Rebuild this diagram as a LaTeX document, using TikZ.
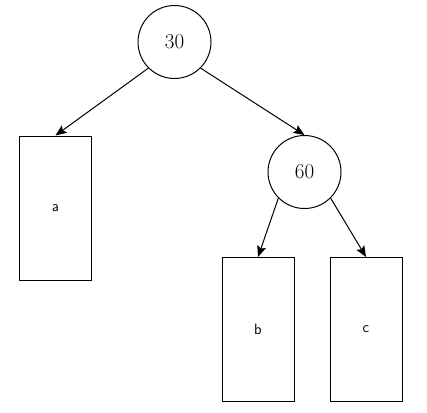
\documentclass[tikz,border=0pt]{standalone}
\usetikzlibrary{arrows.meta}
\begin{document}
\begin{tikzpicture}[
            x=1pt, y=-1pt,
            keynode/.style={circle, draw, minimum size=73pt, inner sep=0pt,
                font=\fontsize{21}{24}\selectfont},
            subtree/.style={rectangle, draw, minimum width=72pt, minimum height=144pt,
                inner sep=0pt, font=\sffamily\fontsize{15}{17}\selectfont},
            every path/.style={line width=1pt},
            link/.style={-{Stealth[length=11pt,width=9pt,inset=2pt]}}
            ]
            \useasboundingbox (0,0) rectangle (427,412);
            \node[keynode] (k30) at (174.5,42) {30};
            \node[subtree] (ta) at (55.5,208) {a};
            \node[keynode] (k60) at (304.5,172) {60};
            \node[subtree] (tb) at (258,329.5) {b};
            \node[subtree] (tc) at (366,329.5) {c};
            \draw[link] (k30.225) -- (ta.north);
            \draw[link] (k30.315) -- (k60.north);
            \draw[link] (k60.225) -- (tb.north);
            \draw[link] (k60.315) -- (tc.north);
        \end{tikzpicture}
\end{document}
